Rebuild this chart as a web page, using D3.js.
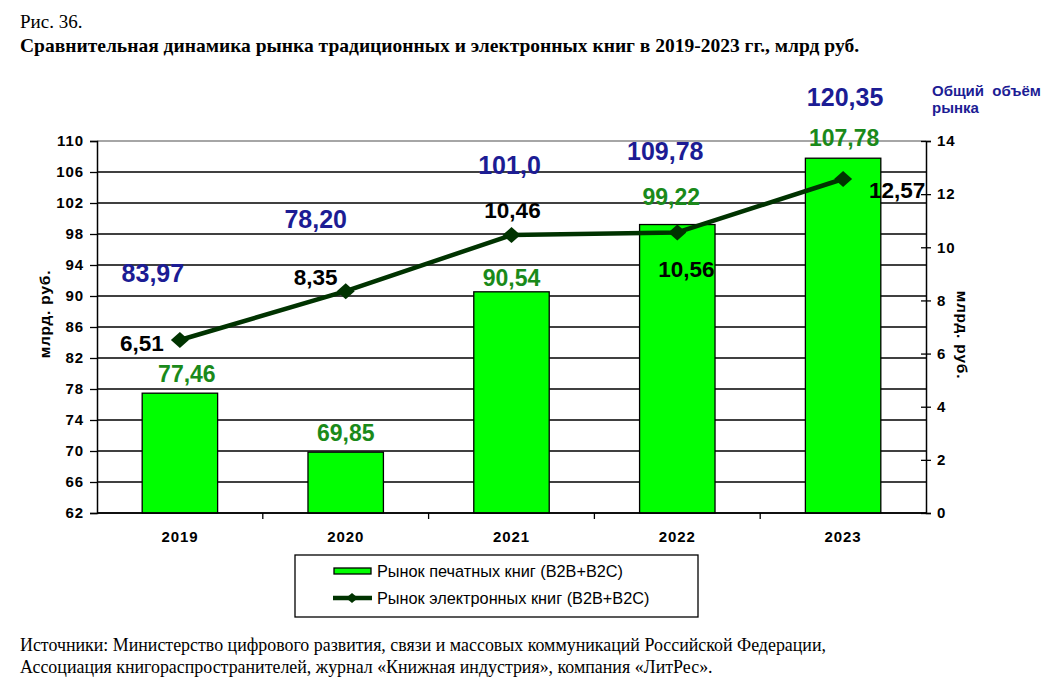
<!DOCTYPE html>
<html>
<head>
<meta charset="utf-8">
<script src="https://cdn.jsdelivr.net/npm/d3@7"></script>
<style>
  body { margin: 0; background: #fff; }
  svg text { font-family: "Liberation Sans", Arial, sans-serif; }
  svg text.serif { font-family: "Liberation Serif", "Times New Roman", serif; }
</style>
</head>
<body>
<svg id="chart" width="1057" height="691"></svg>
<script>
// chart data
const years = ['2019', '2020', '2021', '2022', '2023'];
const printValues = [77.46, 69.85, 90.54, 99.22, 107.78];
const ebookValues = [6.51, 8.35, 10.46, 10.56, 12.57];
const totalValues = ['83,97', '78,20', '101,0', '109,78', '120,35'];
const leftTicks = [62, 66, 70, 74, 78, 82, 86, 90, 94, 98, 102, 106, 110];
const rightTicks = [0, 2, 4, 6, 8, 10, 12, 14];

const fmt = v => String(v.toFixed(2)).replace('.', ',');

// label placement around each anchor (dx, dy)
const totalOffset = [[-27, -58], [-30, -63], [-2, -61], [-12, -72], [2, -73]];
const printOffset = [[7, -11], [0, -11], [0, -6], [-6, -20], [1, -12]];
const ebookOffset = [[-38, 11], [-30, -6], [1, -17], [9, 45], [54, 19]];

const svg = d3.select('#chart');
const plotLeft = 97, plotRight = 926, plotTop = 141, plotBottom = 513;

const x = d3.scaleBand().domain(years).range([plotLeft, plotRight]);
const yLeft = d3.scaleLinear().domain([62, 110]).range([plotBottom, plotTop]);
const yRight = d3.scaleLinear().domain([0, 14]).range([plotBottom, plotTop]);
const barW = x.bandwidth() * 0.455;

// titles
svg.append('text').attr('class', 'serif').attr('x', 20).attr('y', 28)
  .attr('font-size', 19).text('Рис. 36.');
svg.append('text').attr('class', 'serif').attr('x', 20).attr('y', 52)
  .attr('font-size', 19.5).attr('font-weight', 'bold')
  .text('Сравнительная динамика рынка традиционных и электронных книг в 2019-2023 гг., млрд руб.');

// gridlines
svg.append('g').selectAll('line').data(leftTicks).enter().append('line')
  .attr('x1', plotLeft).attr('x2', plotRight)
  .attr('y1', d => yLeft(d)).attr('y2', d => yLeft(d))
  .attr('stroke', d => d === 110 ? '#888' : '#000')
  .attr('stroke-width', d => d === 110 ? 1.6 : 1.3);

// bars
svg.append('g').selectAll('rect').data(printValues).enter().append('rect')
  .attr('class', 'bar')
  .attr('x', (d, i) => x(years[i]) + (x.bandwidth() - barW) / 2)
  .attr('y', d => yLeft(d))
  .attr('width', barW)
  .attr('height', d => plotBottom - yLeft(d))
  .attr('fill', '#00ff00')
  .attr('stroke', '#000')
  .attr('stroke-width', 1.3);

// left axis
const axisL = svg.append('g').attr('transform', `translate(${plotLeft},0)`)
  .call(d3.axisLeft(yLeft).tickValues(leftTicks).tickSize(7).tickPadding(6));
axisL.select('.domain').attr('stroke', '#000').attr('stroke-width', 1.5);
axisL.selectAll('.tick line').attr('stroke-width', 1.3);
axisL.selectAll('text').attr('font-size', 15).attr('font-weight', 'bold')
  .attr('letter-spacing', 0.9)
  .attr('font-family', '"Liberation Sans", Arial, sans-serif');

// right axis
const axisR = svg.append('g').attr('transform', `translate(${plotRight},0)`)
  .call(d3.axisRight(yRight).tickValues(rightTicks).tickSize(5).tickPadding(6));
axisR.select('.domain').attr('stroke', '#000').attr('stroke-width', 1.5);
axisR.selectAll('.tick line').attr('x1', -5).attr('stroke-width', 1.3);
axisR.selectAll('text').attr('font-size', 15).attr('font-weight', 'bold')
  .attr('letter-spacing', 0.9)
  .attr('font-family', '"Liberation Sans", Arial, sans-serif');

// bottom axis with ticks between categories
svg.append('line').attr('x1', plotLeft).attr('x2', plotRight)
  .attr('y1', plotBottom).attr('y2', plotBottom)
  .attr('stroke', '#000').attr('stroke-width', 1.5);
svg.append('g').selectAll('line').data(years.slice(1)).enter().append('line')
  .attr('x1', d => x(d)).attr('x2', d => x(d))
  .attr('y1', plotBottom).attr('y2', plotBottom + 6)
  .attr('stroke', '#000').attr('stroke-width', 1.3);
svg.append('g').selectAll('text').data(years).enter().append('text')
  .attr('x', d => x(d) + x.bandwidth() / 2).attr('y', 542)
  .attr('text-anchor', 'middle').attr('font-size', 15).attr('font-weight', 'bold')
  .attr('letter-spacing', 0.9)
  .text(d => d);

// axis titles
svg.append('text').attr('transform', 'translate(50,314) rotate(-90)')
  .attr('text-anchor', 'middle').attr('font-size', 15.5).attr('font-weight', 'bold')
  .attr('letter-spacing', 0.8)
  .text('млрд. руб.');
svg.append('text').attr('transform', 'translate(957,335) rotate(90)')
  .attr('text-anchor', 'middle').attr('font-size', 15.5).attr('font-weight', 'bold')
  .attr('letter-spacing', 0.8)
  .text('млрд. руб.');

// ebook line
const cx = i => x(years[i]) + x.bandwidth() / 2;
const line = d3.line().x((d, i) => cx(i)).y(d => yRight(d));
svg.append('path').datum(ebookValues).attr('d', line)
  .attr('fill', 'none').attr('stroke', '#003300').attr('stroke-width', 4.5)
  .attr('stroke-linejoin', 'round');
svg.append('g').selectAll('path').data(ebookValues).enter().append('path')
  .attr('d', 'M0,-8 L9,0 L0,8 L-9,0 Z')
  .attr('transform', (d, i) => `translate(${cx(i)},${yRight(d)})`)
  .attr('fill', '#003300');

// value labels
const labels = svg.append('g').attr('font-weight', 'bold').attr('text-anchor', 'middle');
labels.selectAll('.total').data(totalValues).enter().append('text')
  .attr('class', 'total')
  .attr('x', (d, i) => cx(i) + totalOffset[i][0])
  .attr('y', (d, i) => yRight(ebookValues[i]) + totalOffset[i][1])
  .attr('font-size', 25).attr('fill', '#1c1c94').text(d => d);
labels.selectAll('.print').data(printValues).enter().append('text')
  .attr('class', 'print')
  .attr('x', (d, i) => cx(i) + printOffset[i][0])
  .attr('y', (d, i) => yLeft(d) + printOffset[i][1])
  .attr('font-size', 23).attr('fill', '#1a8a1a').text(d => fmt(d));
labels.selectAll('.ebook').data(ebookValues).enter().append('text')
  .attr('class', 'ebook')
  .attr('x', (d, i) => cx(i) + ebookOffset[i][0])
  .attr('y', (d, i) => yRight(d) + ebookOffset[i][1])
  .attr('font-size', 22.5).attr('fill', '#000').text(d => fmt(d));

// total market note
svg.append('text').attr('x', 932).attr('y', 96).attr('font-size', 15)
  .attr('font-weight', 'bold').attr('fill', '#1c1c94').attr('xml:space', 'preserve')
  .text('Общий  объём');
svg.append('text').attr('x', 932).attr('y', 113).attr('font-size', 15)
  .attr('font-weight', 'bold').attr('fill', '#1c1c94').text('рынка');

// legend
const legend = svg.append('g');
legend.append('rect').attr('x', 295).attr('y', 555).attr('width', 403).attr('height', 62)
  .attr('fill', '#fff').attr('stroke', '#000').attr('stroke-width', 1.3);
legend.append('rect').attr('x', 334).attr('y', 568).attr('width', 37).attr('height', 6)
  .attr('fill', '#00ff00').attr('stroke', '#000').attr('stroke-width', 1.3);
legend.append('line').attr('x1', 333).attr('x2', 372).attr('y1', 598).attr('y2', 598)
  .attr('stroke', '#003300').attr('stroke-width', 4.5);
legend.append('path').attr('d', 'M0,-5 L6,0 L0,5 L-6,0 Z')
  .attr('transform', 'translate(352,598)').attr('fill', '#003300');
legend.append('text').attr('x', 377).attr('y', 577).attr('font-size', 16.3)
  .text('Рынок печатных книг (B2B+B2C)');
legend.append('text').attr('x', 377).attr('y', 604).attr('font-size', 16.3)
  .text('Рынок электронных книг (B2B+B2C)');

// source
svg.append('text').attr('class', 'serif').attr('x', 20).attr('y', 651).attr('font-size', 17.9)
  .text('Источники: Министерство цифрового развития, связи и массовых коммуникаций Российской Федерации,');
svg.append('text').attr('class', 'serif').attr('x', 20).attr('y', 673).attr('font-size', 17.9)
  .text('Ассоциация книгораспространителей, журнал «Книжная индустрия», компания «ЛитРес».');
</script>
</body>
</html>
